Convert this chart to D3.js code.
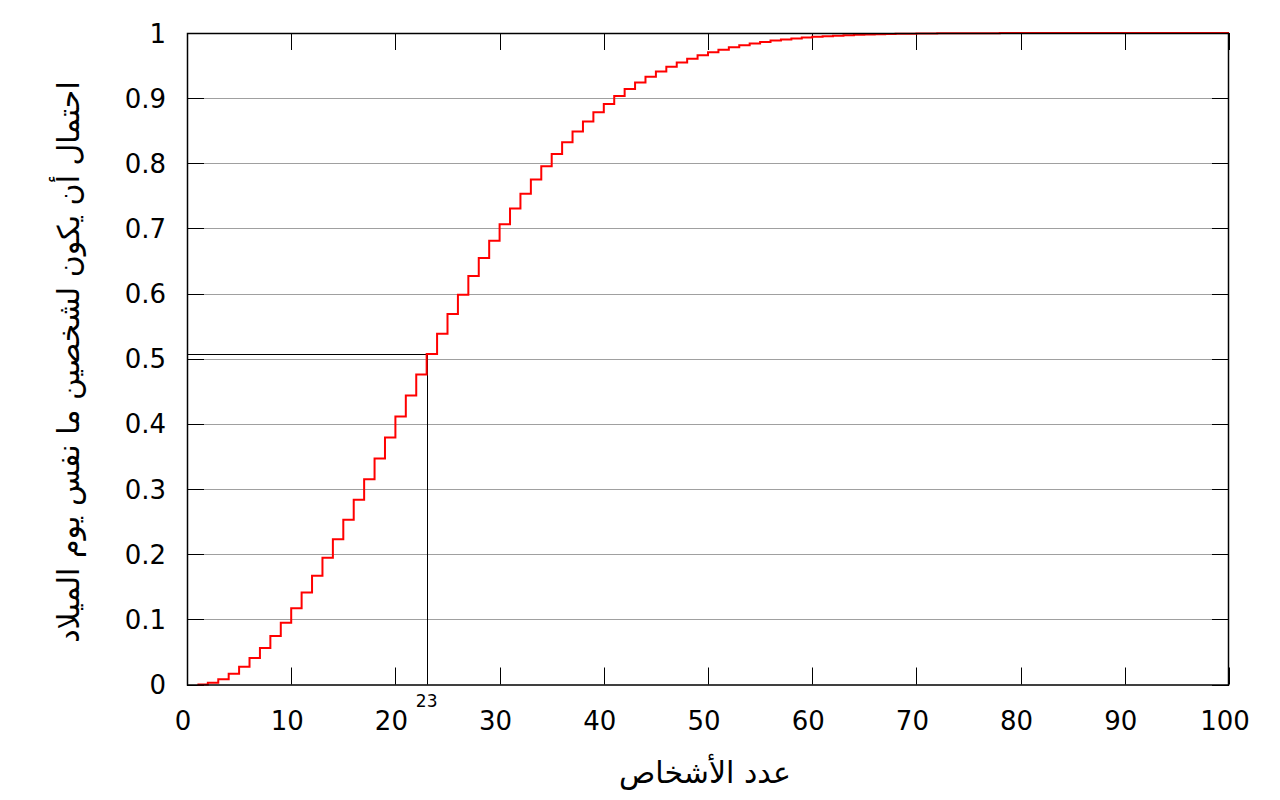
<!DOCTYPE html>
<html>
<head>
<meta charset="utf-8">
<script src="https://cdn.jsdelivr.net/npm/d3@7/dist/d3.min.js"></script>
<style>
  html, body { margin: 0; padding: 0; background: #fff; }
  svg { display: block; }
</style>
</head>
<body>
<svg id="chart" width="1280" height="800"></svg>
<script>
// ---- data ----
const people = d3.range(1, 101); // number of people n = 1..100
const probability = [
  0, 0.0027, 0.0082, 0.0164, 0.0271, 0.0405, 0.0562, 0.0743, 0.0946, 0.1169,
  0.1411, 0.1670, 0.1944, 0.2231, 0.2529, 0.2836, 0.3150, 0.3469, 0.3791, 0.4114,
  0.4437, 0.4757, 0.5073, 0.5383, 0.5687, 0.5982, 0.6269, 0.6545, 0.6810, 0.7063,
  0.7305, 0.7533, 0.7750, 0.7953, 0.8144, 0.8322, 0.8487, 0.8641, 0.8782, 0.8912,
  0.9032, 0.9140, 0.9239, 0.9329, 0.9410, 0.9483, 0.9548, 0.9606, 0.9658, 0.9704,
  0.9744, 0.9780, 0.9811, 0.9839, 0.9863, 0.9883, 0.9901, 0.9917, 0.9930, 0.9941,
  0.9951, 0.9959, 0.9966, 0.9972, 0.9977, 0.9981, 0.9984, 0.9987, 0.9990, 0.9992,
  0.9993, 0.9995, 0.9996, 0.9996, 0.9997, 0.9998, 0.9998, 0.9999, 0.9999, 0.9999,
  0.9999, 0.9999, 1, 1, 1, 1, 1, 1, 1, 1,
  1, 1, 1, 1, 1, 1, 1, 1, 1, 1
];
const xTicks = [0, 10, 20, 30, 40, 50, 60, 70, 80, 90, 100];
const xTickLabels = ["0", "10", "20", "30", "40", "50", "60", "70", "80", "90", "100"];
const yTicks = [0, 0.1, 0.2, 0.3, 0.4, 0.5, 0.6, 0.7, 0.8, 0.9, 1];
const yTickLabels = ["0", "0.1", "0.2", "0.3", "0.4", "0.5", "0.6", "0.7", "0.8", "0.9", "1"];
const markerPeople = 23;
const markerLabel = "23";
const xTitle = "عدد الأشخاص";
const yTitle = "احتمال أن يكون لشخصين ما نفس يوم الميلاد";

// ---- layout ----
const pLeft = 187, pRight = 1229, pTop = 33, pBottom = 684.5;
const svg = d3.select("#chart");
const x = d3.scaleLinear().domain([0, 100]).range([pLeft, pRight]);
const y = d3.scaleLinear().domain([0, 1]).range([pBottom, pTop]);
const numFont = "'DejaVu Sans', sans-serif";
const arFont = "'DejaVu Sans', sans-serif";
const tickLen = 17;

// gridlines
svg.append("g").selectAll("line").data(yTicks.slice(1, -1)).join("line")
  .attr("x1", pLeft).attr("x2", pRight)
  .attr("y1", d => Math.round(y(d)) + 0.5).attr("y2", d => Math.round(y(d)) + 0.5)
  .attr("stroke", "#a0a0a0").attr("stroke-width", 1);

// y ticks on both sides
const yt = svg.append("g");
yTicks.forEach(d => {
  const yy = Math.round(y(d)) + 0.5;
  yt.append("line").attr("x1", pLeft).attr("x2", pLeft + tickLen).attr("y1", yy).attr("y2", yy).attr("stroke", "#000");
  yt.append("line").attr("x1", pRight - tickLen).attr("x2", pRight).attr("y1", yy).attr("y2", yy).attr("stroke", "#000");
});
// x ticks top and bottom
xTicks.forEach(d => {
  const xx = Math.round(x(d)) + 0.5;
  yt.append("line").attr("x1", xx).attr("x2", xx).attr("y1", pBottom).attr("y2", pBottom - tickLen).attr("stroke", "#000");
  yt.append("line").attr("x1", xx).attr("x2", xx).attr("y1", pTop).attr("y2", pTop + tickLen).attr("stroke", "#000");
});

// marker lines at n = 23
const pm = probability[people.indexOf(markerPeople)];
svg.append("line")
  .attr("x1", Math.round(x(markerPeople)) + 0.5).attr("x2", Math.round(x(markerPeople)) + 0.5)
  .attr("y1", pBottom).attr("y2", y(pm))
  .attr("stroke", "#000").attr("stroke-width", 1);
svg.append("line")
  .attr("x1", pLeft).attr("x2", x(markerPeople))
  .attr("y1", Math.round(y(pm)) + 0.5).attr("y2", Math.round(y(pm)) + 0.5)
  .attr("stroke", "#000").attr("stroke-width", 1);

// step curve
const data = people.map((n, i) => [n, probability[i]]);
const line = d3.line().x(d => x(d[0])).y(d => y(d[1])).curve(d3.curveStepAfter);
svg.append("path").datum(data)
  .attr("d", line)
  .attr("fill", "none").attr("stroke", "#ff0000").attr("stroke-width", 2);

// frame
svg.append("rect")
  .attr("x", pLeft + 0.5).attr("y", pTop + 0.5)
  .attr("width", pRight - pLeft - 1).attr("height", pBottom - pTop)
  .attr("fill", "none").attr("stroke", "#000").attr("stroke-width", 1.5);

// tick labels
svg.append("g").selectAll("text").data(xTicks).join("text")
  .attr("x", d => x(d) - 4).attr("y", 730)
  .attr("text-anchor", "middle")
  .attr("font-family", numFont).attr("font-size", 26)
  .text((d, i) => xTickLabels[i]);
svg.append("g").selectAll("text").data(yTicks).join("text")
  .attr("x", 166).attr("y", d => y(d) + 9.5)
  .attr("text-anchor", "end")
  .attr("font-family", numFont).attr("font-size", 26)
  .text((d, i) => yTickLabels[i]);

// marker label
svg.append("text")
  .attr("x", x(markerPeople)).attr("y", 707)
  .attr("text-anchor", "middle")
  .attr("font-family", numFont).attr("font-size", 17)
  .text(markerLabel);

// axis titles
svg.append("text")
  .attr("x", 705).attr("y", 783)
  .attr("text-anchor", "middle")
  .attr("font-family", arFont).attr("font-size", 30)
  .attr("direction", "rtl")
  .text(xTitle);
svg.append("text")
  .attr("transform", "translate(79,362) rotate(-90)")
  .attr("text-anchor", "middle")
  .attr("font-family", arFont).attr("font-size", 30)
  .attr("direction", "rtl")
  .text(yTitle);
</script>
</body>
</html>
